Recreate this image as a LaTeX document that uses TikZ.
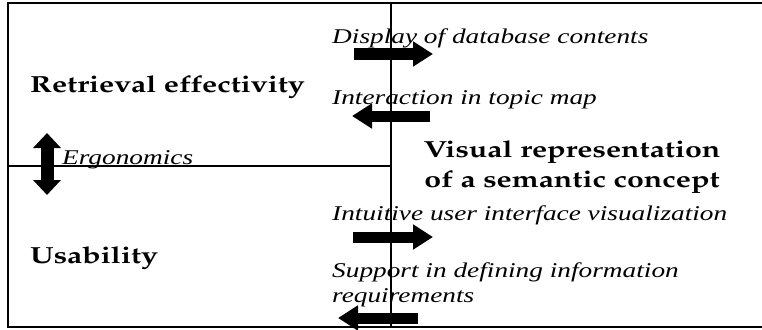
\documentclass[tikz,border=0pt]{standalone}
\usepackage[T1]{fontenc}
\usepackage{fontspec}
\setmainfont{Liberation Serif}
\usetikzlibrary{
  arrows.meta,
  positioning,  % Function "of" (e.g. [right=of x])
}
\newcommand{\pal}{\fontencoding{T1}\fontfamily{ppl}\selectfont}
\newcommand{\wide}[1]{\scalebox{1.3}[1]{#1}}
\tikzset{
  x=1pt, y=-1pt,
  frame/.style={
    line width=1.2pt
  },
  my heading/.style={
    font=\pal\bfseries\fontsize{23.3}{30}\selectfont,
    inner sep=0pt
  },
  my label/.style={
    font=\itshape\fontsize{21}{24.5}\selectfont,
    inner sep=0pt,
    align=left,
    anchor=base west
  },
  block arrow/.style={
    line width=11pt,
    -{Triangle[length=20pt,width=24pt]}
  },
  double block/.style={
    line width=13pt,
    {Triangle[length=15pt,width=27pt]}-{Triangle[length=15pt,width=27pt]}
  }
}
\begin{document}
\begin{tikzpicture}
\useasboundingbox (0,0) rectangle (762,329);
% frame
\draw[frame] (762,3) -- (8,3) -- (8,327) -- (762,327);
\draw[frame] (391,3) -- (391,327);
\draw[frame] (8,166) -- (391,166);
% left half
\node[my heading,anchor=base west] (ret) at (30,92) {\wide{Retrieval effectivity}};
\node[my heading,anchor=base west] (usa) at (30,263) {\wide{Usability}};
\node[my label] (ergo) at (62,164) {\wide{Ergonomics}};
\coordinate (ergotop) at (47,133);
\coordinate (ergobot) at (47,195);
\draw[double block] (ergotop) -- (ergobot);
% right half
\node[my heading,align=center] (visual) at (572,167)
  {\wide{Visual representation}\\\wide{of a semantic concept}};
\node[my label] (disp)  at (332,44)  {\wide{Display of database contents}};
\node[my label] (inter) at (332,104) {\wide{Interaction in topic map}};
\node[my label] (intu)  at (332,220) {\wide{Intuitive user interface visualization}};
\node[my label] (supp)  at (332,302)
  {\wide{Support in defining information}\\\wide{requirements}};
% arrows across the divider
\coordinate (a1) at (354,54);  \coordinate (b1) at (433,54);
\coordinate (a2) at (430,116); \coordinate (b2) at (352,116);
\coordinate (a3) at (353,237); \coordinate (b3) at (433,237);
\coordinate (a4) at (418,318); \coordinate (b4) at (338,318);
\foreach \i in {1,...,4}
  \draw[block arrow] (a\i) -- (b\i);
\end{tikzpicture}
\end{document}
